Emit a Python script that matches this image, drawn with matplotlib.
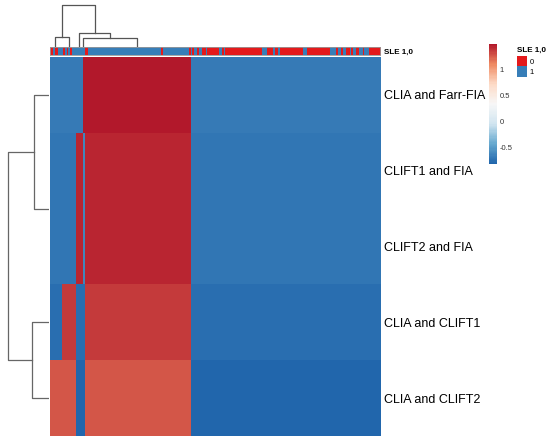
import numpy as np
import matplotlib
matplotlib.use('Agg')
import matplotlib.pyplot as plt
from matplotlib.colors import LinearSegmentedColormap, ListedColormap

plt.rcParams['font.family'] = ['Liberation Sans', 'DejaVu Sans']

# rows of the heatmap, top to bottom
row_labels = ["CLIA and Farr-FIA", "CLIFT1 and FIA", "CLIFT2 and FIA",
              "CLIA and CLIFT1", "CLIA and CLIFT2"]

# columns come in blocks of identical samples (block sizes in columns)
block_sizes = [7, 9, 4, 1, 64, 115]
# value of every row in each block
row_block_values = [
    [-0.68, -0.68, -0.68, 1.50, 1.50, -0.68],
    [-0.70, -0.70, 1.45, -0.62, 1.45, -0.70],
    [-0.70, -0.70, 1.45, -0.62, 1.45, -0.70],
    [-0.76, 1.38, -0.76, -0.76, 1.38, -0.76],
    [1.27, 1.27, -0.80, -0.80, 1.27, -0.80],
]
value_min, value_max = -0.81, 1.50

# SLE annotation as (code, run length) along the columns
sle_runs = [(0, 2), (1, 1), (0, 2), (1, 3), (0, 1), (1, 1), (0, 1), (1, 1), (0, 1), (1, 8),
            (0, 2), (1, 44), (0, 1), (1, 16), (0, 1), (1, 1), (0, 1), (1, 2), (0, 1), (1, 2),
            (0, 2), (1, 1), (0, 7), (1, 2), (0, 1), (1, 1), (0, 22), (1, 3), (0, 4), (1, 1),
            (0, 2), (1, 1), (0, 14), (1, 2), (0, 14), (1, 4), (0, 1), (1, 2), (0, 1), (1, 2),
            (0, 2), (1, 1), (0, 1), (1, 2), (0, 2), (1, 2), (0, 1), (1, 3), (0, 7)]
sle_labels = ["0", "1"]
sle_colors = ["#E41A1C", "#377EB8"]

# row clustering: (child a, child b, height); leaves 0..4, new nodes from 5
row_merges = [(1, 2, 0.0), (0, 5, 0.37), (3, 4, 0.41), (6, 7, 1.0)]
# column clustering over the first five column blocks
col_merges = [(0, 1, 0.24), (3, 4, 0.21), (2, 6, 0.33), (5, 7, 1.0)]

heat_colors = ["#2166AC", "#67A9CF", "#D1E5F0", "#F7F7F7", "#FDDBC7", "#EF8A62", "#B2182B"]
cmap = LinearSegmentedColormap.from_list("rdbu7", heat_colors, N=100)

W, H = 550, 445


def fig_rect(x0, y0, x1, y1):
    return [x0 / W, 1 - y1 / H, (x1 - x0) / W, (y1 - y0) / H]


def draw_dendro(ax, leaf_pos, merges, orient, color="#555555"):
    pos = list(leaf_pos)
    hts = [0.0] * len(leaf_pos)
    for a, b, h in merges:
        pa, pb, ha, hb = pos[a], pos[b], hts[a], hts[b]
        if h > 0:
            if orient == "top":
                ax.plot([pa, pa, pb, pb], [ha, h, h, hb], color=color, lw=0.9)
            else:
                ax.plot([ha, h, h, hb], [pa, pa, pb, pb], color=color, lw=0.9)
        pos.append((pa + pb) / 2)
        hts.append(h)


n_rows = len(row_labels)
n_cols = sum(block_sizes)
mat = np.array([np.repeat(vals, block_sizes) for vals in row_block_values])
sle = np.concatenate([[c] * n for c, n in sle_runs])

fig = plt.figure(figsize=(5.5, 4.45), dpi=100)

# heatmap
ax = fig.add_axes(fig_rect(49.5, 57, 380, 436))
im = ax.imshow(mat, cmap=cmap, vmin=value_min, vmax=value_max, aspect='auto',
               interpolation='nearest', extent=[0, n_cols, n_rows, 0])
ax.set_xlim(0, n_cols)
ax.set_ylim(n_rows, 0)
ax.set_xticks([])
ax.yaxis.tick_right()
ax.set_yticks(np.arange(n_rows) + 0.5)
ax.set_yticklabels(row_labels, fontsize=9)
ax.tick_params(axis='y', length=0, pad=3)
for s in ax.spines.values():
    s.set_visible(False)

# annotation bar
ax_an = fig.add_axes(fig_rect(49.5, 47, 380, 55))
ax_an.imshow(sle[None, :], cmap=ListedColormap(sle_colors), vmin=-0.5, vmax=1.5,
             aspect='auto', interpolation='nearest', extent=[0, n_cols, 0, 1])
ax_an.set_xlim(0, n_cols)
ax_an.set_ylim(0, 1)
ax_an.set_xticks([])
ax_an.yaxis.tick_right()
ax_an.set_yticks([0.5])
ax_an.set_yticklabels(["SLE 1,0"], fontsize=5.8, fontweight='bold')
ax_an.tick_params(axis='y', length=0, pad=3)
for s in ax_an.spines.values():
    s.set_color("#999999")
    s.set_linewidth(0.6)

# column dendrogram
ax_cd = fig.add_axes(fig_rect(49.5, 3, 380, 47))
edges = np.cumsum([0] + block_sizes)
centers = (edges[:-1] + edges[1:]) / 2
draw_dendro(ax_cd, centers[:5], col_merges, "top")
ax_cd.set_xlim(0, n_cols)
ax_cd.set_ylim(0, 1.05)
ax_cd.axis('off')

# row dendrogram
ax_rd = fig.add_axes(fig_rect(0, 57, 49, 436))
draw_dendro(ax_rd, np.arange(n_rows) + 0.5, row_merges, "left", color="#666666")
ax_rd.set_ylim(n_rows, 0)
ax_rd.set_xlim(1.2, 0)
ax_rd.axis('off')

# colour scale
cax = fig.add_axes(fig_rect(489, 44, 497, 164))
cb = fig.colorbar(im, cax=cax)
cb.outline.set_visible(False)
cb.set_ticks([-0.5, 0, 0.5, 1])
cb.set_ticklabels(["-0.5", "0", "0.5", "1"])
cax.tick_params(length=0, labelsize=5.5, pad=2, labelcolor="#333333")

# SLE legend
ax_lg = fig.add_axes(fig_rect(517, 56, 527, 77))
ax_lg.imshow(np.arange(len(sle_labels))[:, None], cmap=ListedColormap(sle_colors),
             aspect='auto', extent=[0, 1, len(sle_labels), 0])
ax_lg.set_xticks([])
ax_lg.yaxis.tick_right()
ax_lg.set_yticks(np.arange(len(sle_labels)) + 0.5)
ax_lg.set_yticklabels(sle_labels, fontsize=5.5)
ax_lg.tick_params(axis='y', length=0, pad=2)
for s in ax_lg.spines.values():
    s.set_visible(False)
ax_lg.text(0, 1 + 6 / 21, "SLE 1,0", transform=ax_lg.transAxes, fontsize=5.8,
           fontweight='bold', ha='left', va='center')

fig.savefig("out.png", dpi=100)
